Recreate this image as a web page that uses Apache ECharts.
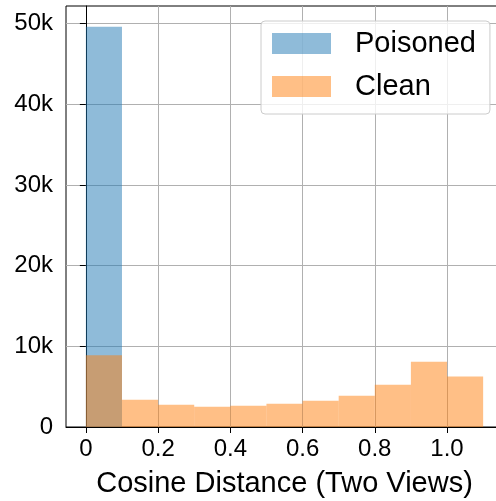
<!DOCTYPE html>
<html>
<head>
<meta charset="utf-8">
<script src="https://cdn.jsdelivr.net/npm/echarts@6/dist/echarts.min.js"></script>
<style>html,body{margin:0;padding:0;background:#fff}#c{width:496px;height:501px}</style>
</head>
<body>
<div id="c"></div>
<script>
const binEdges = [0, 0.1, 0.2, 0.3, 0.4, 0.5, 0.6, 0.7, 0.8, 0.9, 1.0, 1.1];
const poisonedCounts = [49600, 0, 0, 0, 0, 0, 0, 0, 0, 0, 0];
const cleanCounts = [8880, 3390, 2770, 2520, 2640, 2890, 3260, 3880, 5250, 8100, 6250];
const xTicks = [0, 0.2, 0.4, 0.6, 0.8, 1.0];
const xTickLabels = ['0', '0.2', '0.4', '0.6', '0.8', '1.0'];
const yTicks = [0, 10000, 20000, 30000, 40000, 50000];
const yTickLabels = ['0', '10k', '20k', '30k', '40k', '50k'];
const seriesNames = ['Poisoned', 'Clean'];

function toBins(counts) {
  return counts.map((c, i) => [binEdges[i], binEdges[i + 1], c]).filter(d => d[2] > 0);
}

function renderBar(params, api) {
  const x0 = api.value(0), x1 = api.value(1), y = api.value(2);
  const p0 = api.coord([x0, y]);
  const p1 = api.coord([x1, 0]);
  return {
    type: 'rect',
    shape: { x: p0[0], y: p0[1], width: p1[0] - p0[0], height: p1[1] - p0[1] },
    style: api.style()
  };
}

const font = 'Liberation Sans, Arial, sans-serif';
const chart = echarts.init(document.getElementById('c'), null, { renderer: 'canvas' });
chart.setOption({
  animation: false,
  backgroundColor: '#fff',
  grid: {
    left: 66, top: 6, width: 437, bottom: 74,
    outerBoundsMode: 'none', containLabel: false,
    show: true, borderColor: '#000', borderWidth: 1, backgroundColor: '#fff'
  },
  legend: {
    left: 261, top: 21,
    orient: 'vertical',
    data: seriesNames,
    icon: 'rect',
    itemWidth: 59, itemHeight: 21, itemGap: 14,
    padding: [8, 14, 13, 11],
    backgroundColor: 'rgba(255,255,255,0.8)',
    borderColor: '#cccccc', borderWidth: 1, borderRadius: 4,
    textStyle: { fontFamily: font, fontSize: 29, color: '#000', padding: [0, 0, 0, 19] }
  },
  xAxis: {
    type: 'value',
    min: -0.055, max: 1.155,
    name: 'Cosine Distance (Two Views)',
    nameLocation: 'middle', nameGap: 42,
    nameTextStyle: { fontFamily: font, fontSize: 29, color: '#000' },
    axisLine: { show: true, onZero: false, lineStyle: { color: '#000', width: 1 } },
    axisTick: { show: true, length: 6, lineStyle: { color: '#000', width: 1 }, customValues: xTicks },
    axisLabel: {
      customValues: xTicks, margin: 10,
      fontFamily: font, fontSize: 24, color: '#000',
      formatter: v => { const i = xTicks.findIndex(t => Math.abs(t - v) < 1e-9); return i >= 0 ? xTickLabels[i] : ''; }
    },
    splitLine: { show: true, lineStyle: { color: '#b0b0b0', width: 1 } }
  },
  yAxis: {
    type: 'value',
    min: 0, max: 52170,
    axisLine: { show: true, lineStyle: { color: '#000', width: 1 } },
    axisTick: { show: true, length: 6, lineStyle: { color: '#000', width: 1 }, customValues: yTicks },
    axisLabel: {
      customValues: yTicks, margin: 13,
      fontFamily: font, fontSize: 24, color: '#000',
      formatter: v => { const i = yTicks.findIndex(t => Math.abs(t - v) < 1e-6); return i >= 0 ? yTickLabels[i] : ''; }
    },
    splitLine: { show: true, lineStyle: { color: '#b0b0b0', width: 1 } }
  },
  series: [
    {
      name: seriesNames[0], type: 'custom', renderItem: renderBar,
      itemStyle: { color: 'rgba(31,119,180,0.5)' },
      encode: { x: [0, 1], y: 2 },
      data: toBins(poisonedCounts)
    },
    {
      name: seriesNames[1], type: 'custom', renderItem: renderBar,
      itemStyle: { color: 'rgba(255,127,14,0.5)' },
      encode: { x: [0, 1], y: 2 },
      data: toBins(cleanCounts)
    }
  ]
});
</script>
</body>
</html>
